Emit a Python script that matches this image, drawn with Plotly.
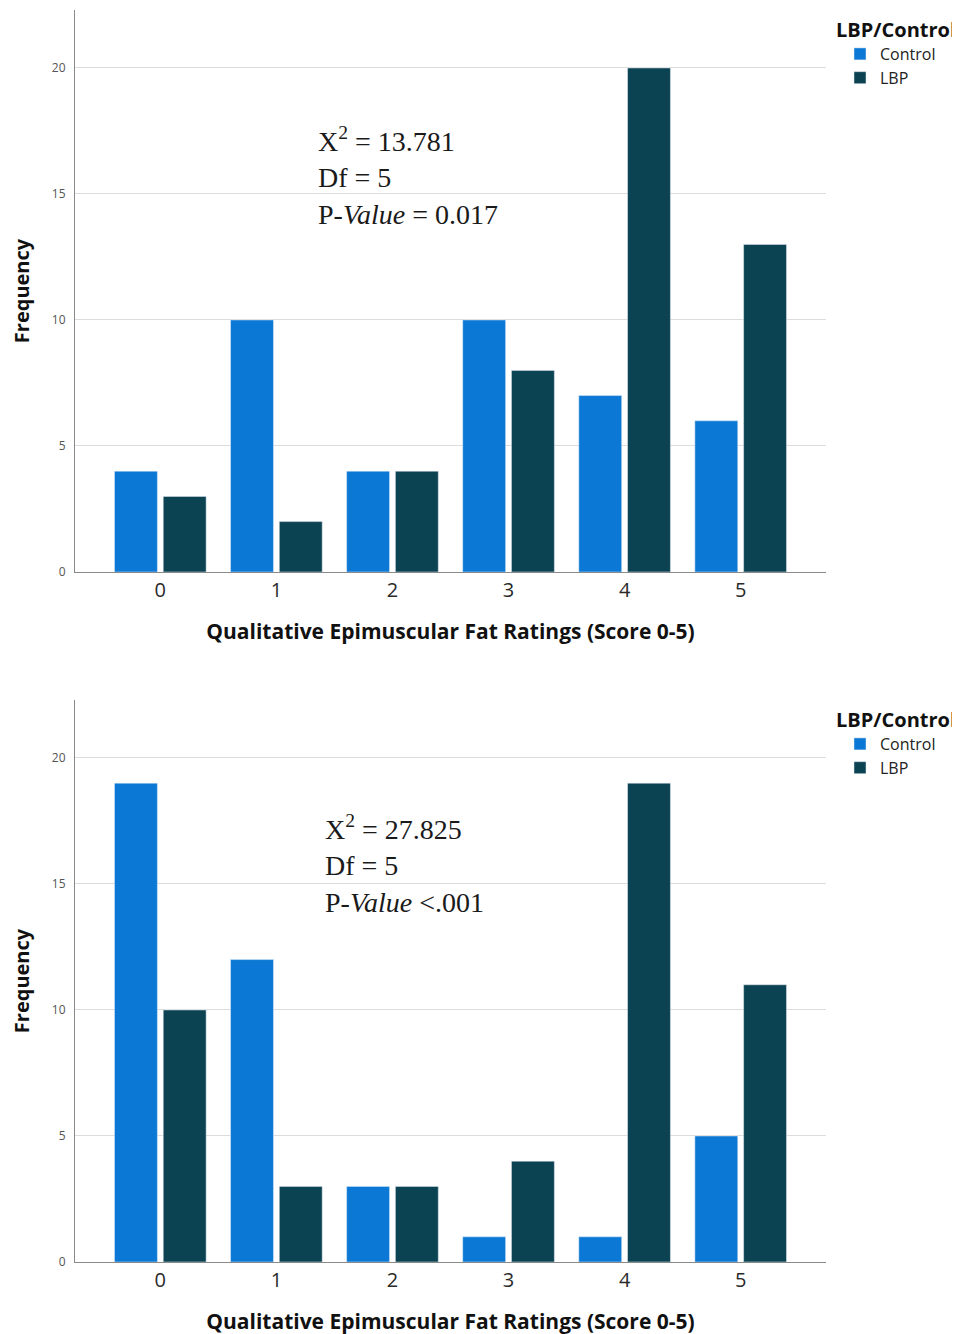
import plotly.graph_objects as go

W, H = 960, 1334
OFF = 8  # default page body margin

scores = ["0", "1", "2", "3", "4", "5"]
top_control = [4, 10, 4, 10, 7, 6]
top_lbp = [3, 2, 4, 8, 20, 13]
bot_control = [19, 12, 3, 1, 1, 5]
bot_lbp = [10, 3, 3, 4, 19, 11]
y_ticks = [0, 5, 10, 15, 20]
top_stats = ["X<sup>2</sup> = 13.781", "Df = 5", "P-<i>Value</i> = 0.017"]
bot_stats = ["X<sup>2</sup> = 27.825", "Df = 5", "P-<i>Value</i> &lt;.001"]

C_CONTROL = "#0a78d4"
C_LBP = "#0c4352"

def px_x(x):
    return (x - OFF) / W

def px_y(y):
    return 1 - (y - OFF) / H

fig = go.Figure()
fig.add_trace(go.Bar(x=scores, y=top_control, name="Control", marker_color=C_CONTROL,
                     xaxis="x", yaxis="y", legend="legend"))
fig.add_trace(go.Bar(x=scores, y=top_lbp, name="LBP", marker_color=C_LBP,
                     xaxis="x", yaxis="y", legend="legend"))
fig.add_trace(go.Bar(x=scores, y=bot_control, name="Control", marker_color=C_CONTROL,
                     xaxis="x2", yaxis="y2", legend="legend2"))
fig.add_trace(go.Bar(x=scores, y=bot_lbp, name="LBP", marker_color=C_LBP,
                     xaxis="x2", yaxis="y2", legend="legend2"))

FONT = "Open Sans"
xtitle = "Qualitative Epimuscular Fat Ratings (Score 0-5)"

def xaxis(anchor):
    return dict(
        domain=[px_x(75), px_x(826)], anchor=anchor, type="category",
        range=[-0.735, 5.735], showline=True, linecolor="#8a8a8a", linewidth=1,
        showgrid=False, ticks="", tickfont=dict(family=FONT, size=20, color="#2a2a2a"),
        title=dict(text="<b>" + xtitle + "</b>", font=dict(family=FONT, size=21, color="#111111"),
                   standoff=22),
        fixedrange=True,
    )

def yaxis(anchor, top_px, bot_px):
    return dict(
        domain=[px_y(bot_px), px_y(top_px)], anchor=anchor,
        range=[0, 22.3], showline=True, linecolor="#8a8a8a", linewidth=1,
        showgrid=True, gridcolor="#dcdcdc", gridwidth=1, zeroline=False,
        tickvals=y_ticks, ticks="", ticklabelstandoff=6,
        tickfont=dict(family=FONT, size=12, color="#555555"),
        title=dict(text="<b>Frequency</b>", font=dict(family=FONT, size=20, color="#111111"),
                   standoff=22),
    )

legend_common = dict(
    xanchor="left", yanchor="top", bgcolor="rgba(0,0,0,0)",
    font=dict(family=FONT, size=16, color="#222222"),
    title=dict(font=dict(family=FONT, size=20, color="#111111")),
    traceorder="normal", itemclick=False, itemdoubleclick=False,
    indentation=6, tracegroupgap=0,
)

fig.update_layout(
    width=W, height=H,
    margin=dict(l=0, r=0, t=0, b=0, autoexpand=False),
    paper_bgcolor="white", plot_bgcolor="white",
    barmode="group", bargap=0.16, bargroupgap=0.12,
    xaxis=xaxis("y"),
    yaxis=yaxis("x", 10, 572),
    xaxis2=xaxis("y2"),
    yaxis2=yaxis("x2", 700, 1262),
    legend=dict(x=px_x(834), y=px_y(11), title_text="<b>LBP/Control</b>", **legend_common),
    legend2=dict(x=px_x(834), y=px_y(701), title_text="<b>LBP/Control</b>", **legend_common),
    showlegend=True,
)

SERIF = "Liberation Serif, Times New Roman, serif"
for stats, x0, yc in [(top_stats, 316, 176), (bot_stats, 323, 864)]:
    fig.add_annotation(
        xref="paper", yref="paper", x=px_x(x0), y=px_y(yc),
        xanchor="left", yanchor="middle", align="left", showarrow=False,
        text="<br>".join(stats),
        font=dict(family=SERIF, size=28, color="#1a1a1a"),
    )

fig.write_html("out.html")
